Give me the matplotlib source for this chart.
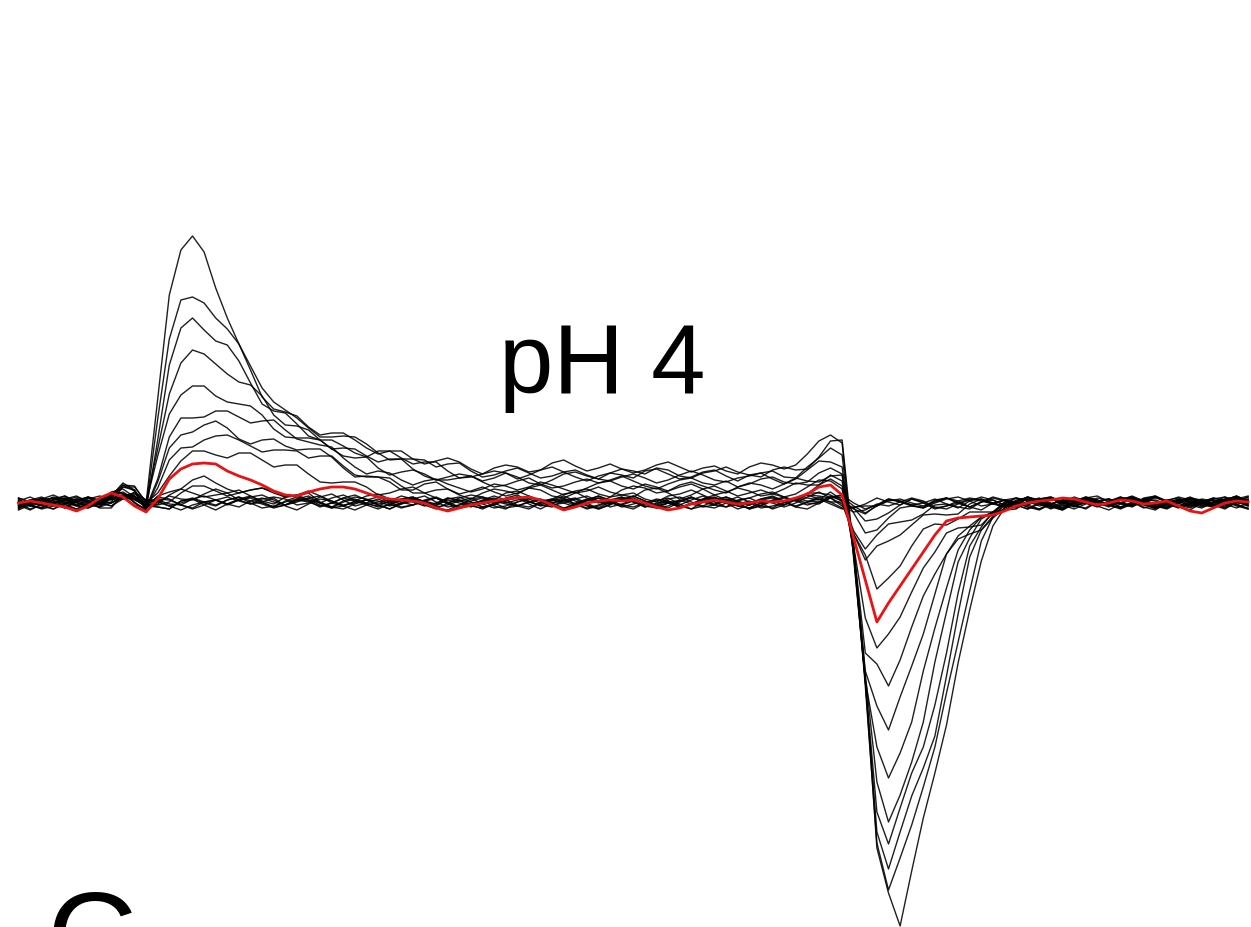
import numpy as np
import matplotlib
matplotlib.use("Agg")
import matplotlib.pyplot as plt

# Gating current traces at pH 4, one trace per test voltage.
# Current in pA (baseline = 0), time in samples.
n_samples = 107
on_start = 8      # first sample of the ON segment
plateau_start = 41
off_start = 66    # first sample of the OFF segment

# ON transients (samples 8..40), largest voltage first
on_segments = [
    [8, 16, 12, 0, 110, 210, 250, 260, 250, 218, 185, 155, 135, 113, 95, 88, 82, 76, 72, 68, 64, 60, 57, 54, 51, 48, 45, 42, 40, 38, 37, 36, 35],
    [6, 14, 10, -2, 85, 160, 195, 203, 203, 190, 174, 157, 139, 121, 102, 90, 80, 74, 70, 66, 63, 60, 57, 53, 50, 46, 43, 40, 37, 35, 33, 31, 30],
    [7, 12, 9, -3, 70, 140, 172, 180, 173, 165, 156, 138, 121, 104, 91, 84, 77, 70, 64, 60, 57, 54, 52, 50, 47, 44, 41, 38, 35, 32, 30, 29, 28],
    [5, 15, 11, -1, 55, 115, 143, 151, 145, 138, 132, 121, 112, 103, 90, 83, 76, 70, 64, 58, 53, 49, 46, 43, 40, 37, 34, 31, 29, 27, 26, 25, 25],
    [6, 13, 8, -4, 40, 88, 112, 118, 115, 110, 106, 99, 93, 85, 76, 72, 67, 62, 57, 52, 48, 44, 41, 38, 35, 32, 29, 27, 25, 23, 22, 21, 20],
    [4, 10, 12, -2, 25, 62, 83, 90, 93, 92, 89, 84, 81, 78, 76, 72, 68, 63, 57, 51, 45, 40, 35, 30, 26, 23, 21, 19, 18, 17, 16, 16, 16],
    [5, 12, 7, -5, 18, 50, 68, 75, 76, 76, 72, 66, 64, 62, 60, 58, 56, 52, 47, 42, 37, 32, 27, 23, 20, 17, 15, 14, 13, 12, 12, 12, 12],
    [3, 9, 10, -3, 12, 38, 54, 60, 63, 63, 62, 61, 60, 58, 55, 52, 49, 46, 43, 40, 36, 32, 28, 24, 20, 17, 15, 13, 12, 11, 10, 10, 10],
    [4, 11, 6, -6, 8, 30, 43, 49, 52, 52, 51, 48, 45, 42, 38, 35, 32, 29, 26, 23, 20, 17, 14, 12, 10, 9, 8, 7, 7, 6, 6, 6, 6],
    [5, 12, 8, -6, 2, 10, 16, 19, 20, 20, 18, 16, 14, 12, 10, 9, 8, 7, 6, 5, 4, 4, 3, 3, 2, 2, 1, 1, 1],
    [3, 8, 6, -4, 1, 6, 10, 13, 14, 14, 13, 12, 10, 9, 8, 7, 6, 5, 4, 3, 3, 2, 2, 1, 1, 1],
    [2, 9, 4, -7, 0, 4, 7, 9, 10, 10, 9, 8, 7, 6, 5, 4, 4, 3, 3, 2, 2, 1, 1, 1],
    [4, 6, 3, -3, 0, 3, 5, 6, 7, 7, 6, 5, 5, 4, 3, 3, 2, 2, 1, 1, 1],
    [2, 7, 5, -5, 0, 2, 3, 4, 5, 5, 4, 4, 3, 3, 2, 2, 1, 1, 1],
    [3, 7, 4, -3],
    [1, 5, 6, -2],
    [4, 9, 3, -5],
    [2, 6, 5, -1],
    [3, 8, 2, -4],
    [1, 4, 7, -3],
]

# steady current during the pulse (samples 41..65)
plateau_levels = [35, 30, 28, 25, 20, 16, 12, 10, 6, 0, 0, 0, 0, 0, 0, 0, 0, 0, 0, 0]

# OFF transients (samples 66..88)
off_segments = [
    [36, 38, 45, 55, 66, 64, -55, -180, -345, -385, -420, -370, -321, -271, -220, -164, -107, -52, -20, -7, -2, 0, 0],
    [31, 33, 40, 48, 58, 56, -50, -180, -340, -390, -354, -318, -282, -246, -196, -140, -83, -35, -14, -6, -2, 0, 0],
    [28, 30, 35, 42, 48, 46, -50, -178, -325, -365, -332, -298, -265, -227, -171, -115, -60, -28, -12, -5, -2, 0, 0],
    [25, 27, 31, 36, 40, 38, -48, -178, -305, -340, -309, -278, -247, -199, -145, -90, -45, -22, -10, -4, -1, 0, 0],
    [20, 22, 26, 30, 33, 31, -46, -176, -280, -315, -286, -258, -222, -166, -111, -57, -35, -20, -10, -4, -1, 0, 0],
    [16, 18, 21, 25, 28, 26, -45, -172, -245, -280, -253, -218, -172, -125, -79, -45, -30, -20, -10, -4, -1, 0, 0],
    [12, 14, 17, 20, 24, 22, -44, -165, -205, -232, -197, -162, -127, -92, -57, -38, -28, -20, -12, -5, -2, 0, 0],
    [10, 11, 14, 17, 21, 19, -42, -150, -165, -185, -156, -127, -98, -69, -45, -32, -25, -18, -10, -4, -1, 0, 0],
    [6, 8, 11, 14, 18, 16, -40, -115, -147, -127, -107, -88, -68, -50, -35, -27, -22, -17, -10, -4, -1, 0, 0],
    [0, 2, 5, 8, 12, 8, -30, -55, -90, -75, -60, -45, -32, -22, -17, -14, -12, -9, -5, -2],
    [0, 1, 3, 6, 9, 5, -30, -60, -50, -40, -30, -22, -16, -12, -9, -6, -3, -1],
    [0, 0, 2, 4, 7, 3, -22, -44, -35, -27, -20, -14, -10, -6, -3, -1],
    [0, 0, 1, 3, 5, 2, -12, -27, -20, -14, -9, -5, -2],
    [0, 0, 1, 2, 4, 1, -8, -17, -12, -8, -4, -2],
    [0, 0, 1, 2, 3, 1, -3, -6, -4, -2],
    [0, 1, 2, 3, 2, 0, -4, -7, -3, -1],
    [0, 0, 0, 1, 2, 1, -2, -4, -2],
    [0, 1, 1, 2, 3, 0, -3, -5, -3, -1],
    [0, 0, 2, 3, 1, 0, -2, -3, -1],
    [0, 1, 0, 2, 2, 1, -1, -4, -2],
]

# recorded baseline noise, 130 samples per row
noise_rows = [
    [2, -3, 4, 0, -5, 3, 6, -1, -4, 2, 5, 0, -6, -2, 3, 7, 1, -3, 0, 4, -2, -7, -1, 3, 5, 0, -4, 2, 6, 3,
     -2, -5, 1, 4, -1, -3, 2, 7, 4, -2, -6, 0, 3, 1, -4, -2, 5, 8, 2, -3, 0, 4, -1, -5, -2, 3, 6, 1, -4, 0,
     2, -3, -6, 1, 5, 3, -2, 0, 4, 7, 2, -4, -1, 3, 0, -5, -3, 2, 6, 1, -2, 4, 0, -6, -3, 2, 5, 3, -1, -4,
     1, 6, 2, -3, -7, -1, 4, 2, -2, 3, 5, 0, -4, 1, 3, -2, -5, 0, 4, 6, 1, -3, 2, 0, -4, 3, 7, 2, -1, -5,
     0, 4, 1, -3, 2, 5, -2, -6, 0, 3],
    [-1, 3, 5, 1, -2, -6, -3, 2, 4, 0, -4, 1, 6, 3, -2, -1, 4, 8, 3, -3, -5, 0, 2, -2, -6, -1, 3, 5, 1, -4,
     0, 4, 6, 2, -3, -7, -2, 1, 3, -1, 4, 7, 1, -4, -2, 2, 5, 0, -5, -3, 1, 3, -2, -6, 0, 4, 2, -1, 5, 3,
     -3, -5, 0, 2, 6, 1, -2, -4, 3, 5, 0, -6, -2, 4, 7, 2, -3, 0, 3, -1, -4, -2, 2, 6, 1, -5, -3, 0, 4, 2,
     -1, 3, 5, -2, -6, -1, 2, 4, 0, -3, 1, 5, 2, -4, -7, 0, 3, 1, -2, 4, 6, 1, -3, -5, 2, 4, 0, -2, 3, 7,
     2, -4, -1, 1, -3, 0, 5, 3, -2, -5],
    [3, 0, -4, -1, 2, 5, 1, -3, -6, 0, 4, 2, -2, 1, 6, 3, -4, -7, -2, 3, 5, 0, -3, 2, 4, -1, -5, 1, 6, 2,
     -3, -1, 3, 0, -4, -6, 2, 5, 1, -2, 3, 6, 0, -5, -3, 1, 4, 2, -4, 0, 5, 8, 3, -2, -6, -1, 2, 0, -3, 4,
     6, 1, -4, -2, 3, 5, -1, -6, 0, 2, 4, -2, -5, 1, 3, 7, 2, -3, 0, -4, -1, 3, 5, 0, -6, -2, 4, 6, 1, -3,
     0, 2, -4, -7, -1, 3, 1, 5, 2, -2, -5, 0, 4, 6, 2, -3, -1, 3, -2, -6, 1, 4, 0, -3, 5, 7, 1, -4, -2, 2,
     3, -1, -5, 0, 4, 2, -3, 1, 6, 0],
    [-2, 1, 4, -3, -5, 0, 3, 6, 2, -2, -4, 1, 5, 2, -1, -6, -3, 2, 4, 1, -3, 0, 6, 4, -2, -5, 1, 3, -1, -4,
     2, 5, 1, -2, 4, 7, 0, -4, -6, -1, 3, 2, -3, 0, 5, 1, -5, -7, -2, 4, 6, 2, -1, -3, 1, 4, 0, -5, -2, 3,
     7, 3, -2, -4, 0, 2, 5, -1, -6, -3, 2, 6, 1, -2, 3, 0, -4, -1, 4, 8, 3, -3, -5, 0, 2, -2, 1, 5, 2, -4,
     -6, -1, 3, 4, 0, -3, 2, 6, 1, -5, -2, 3, 0, -4, 1, 5, 3, -1, -6, 0, 4, 2, -3, 1, 6, 2, -2, -5, -1, 3,
     5, 0, -4, 2, 4, -1, -3, 1, 3, -2],
    [1, -4, -2, 3, 6, 2, -1, -5, 0, 4, 2, -3, -6, 0, 3, 5, 1, -2, 4, 7, 1, -4, -1, 2, -3, -5, 0, 4, 3, -2,
     -6, -2, 3, 6, 2, -1, 1, 5, -3, -7, -1, 4, 2, -2, 0, 3, 6, 1, -4, -2, 2, 5, -1, -5, -3, 1, 4, 0, 3, 7,
     2, -3, -6, -1, 3, 5, 0, -2, 2, -4, -1, 4, 6, 1, -3, -5, 0, 2, -2, 3, 5, 1, -4, -6, -1, 3, 7, 2, -2, 0,
     4, 1, -3, -5, 2, 5, 0, -4, 1, 6, 3, -2, -6, -1, 4, 2, -3, 0, 5, 3, -1, -4, 2, 6, 1, -2, -5, 0, 3, -1,
     4, 7, 2, -3, -1, 2, -4, -6, 1, 4],
    [0, 3, -2, -5, 1, 5, 3, -2, -4, 2, 6, 1, -3, -1, 4, 2, -5, -7, 0, 3, 2, -1, 4, 7, 1, -4, -2, 1, 5, 0,
     -4, -6, 2, 4, 0, -3, 3, 6, 2, -1, -5, -2, 3, 1, -3, 0, 5, 2, -2, -6, -1, 4, 6, 1, -2, 3, 0, -4, 2, 5,
     1, -3, -6, 0, 4, 2, -2, 3, 7, 1, -4, -1, 2, -3, -5, 1, 5, 3, -1, 4, 0, -6, -2, 3, 6, 1, -3, -1, 4, 2,
     -3, -6, 1, 5, 2, -2, 0, 4, -1, -5, 2, 6, 3, -2, -4, 1, 3, -3, -6, 0, 5, 2, -1, 4, 6, 0, -4, -2, 2, -3,
     1, 5, 2, -3, -6, -1, 3, 0, -2, 4],
]
# (row, start) of the noise stretch under each black trace
noise_picks = [(0, 0), (1, 3), (2, 5), (3, 2), (4, 7), (5, 1), (0, 11), (1, 14), (2, 17), (3, 19),
               (4, 12), (5, 9), (0, 20), (1, 6), (2, 22), (3, 10), (4, 15), (5, 18), (0, 4), (1, 21)]

# highlighted trace (red), all 107 samples
red_trace = [0, 2, 0, -2, -4, -8, -3, 5, 10, 6, -3, -9,
             4, 24, 34, 39, 40, 39, 32, 27, 23, 18, 12, 8, 7, 11, 14, 16, 16, 14, 10, 6, 4, 3, 2, 0, -5, -8, -5, -2, 0,
             2, 4, 5, 6, 3, -2, -7, -4, 0, 2, 3, 2, 3, 0, -4, -7, -5, -1, 1, 3, 1, -1, 0, 2, 1,
             2, 5, 9, 16, 18, 8, -35, -77, -119, -100, -83, -66, -49, -32, -18, -15, -14, -13, -12, -8, -3, 0, 2,
             3, 5, 4, 1, -2, 0, 3, 2, -1, 0, 2, -3, -8, -10, -5, 0, 2, 1]

t = np.arange(n_samples)

fig = plt.figure(figsize=(12.51, 9.27), dpi=100)
ax = fig.add_axes([0, 0, 1, 1])

for k in range(len(on_segments)):
    y = np.zeros(n_samples)
    on = on_segments[k]
    y[on_start:on_start + len(on)] = on
    y[plateau_start:off_start] = plateau_levels[k]
    off = off_segments[k]
    y[off_start:off_start + len(off)] = off
    row, start = noise_picks[k]
    y = y + np.array(noise_rows[row][start:start + n_samples])
    ax.plot(t, y, color="black", lw=1.0, alpha=0.88, zorder=2)

ax.plot(t, red_trace, color="#ee1111", lw=2.0, zorder=3)

ax.set_xlim(-1.595, 106.25)
ax.set_ylim(-424, 503)
ax.axis("off")

fig.text(499 / 1251, 1 - 393 / 927, "pH 4", fontsize=70.4, family="Liberation Sans",
         ha="left", va="baseline")
# panel letter of the next figure, cut off at the bottom edge
fig.text(47 / 1251, 1 - 979 / 927, "C", fontsize=90, family="Liberation Sans",
         ha="left", va="baseline")

fig.savefig("out.png", dpi=100, facecolor="white")
